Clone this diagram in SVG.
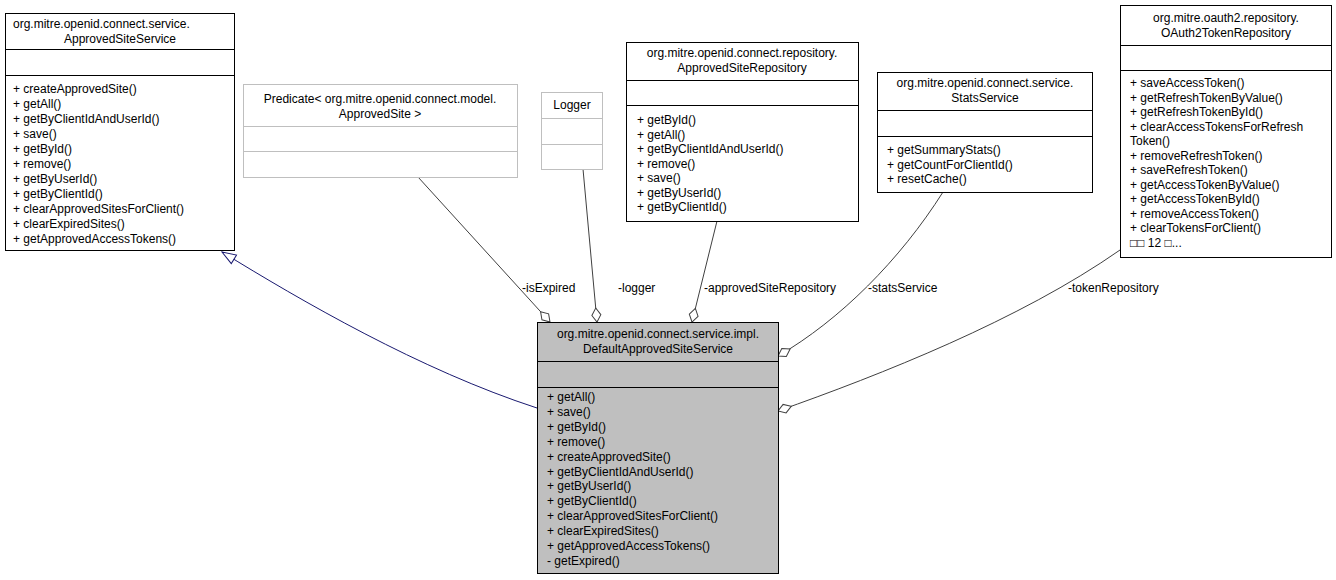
<svg xmlns="http://www.w3.org/2000/svg" width="1336" height="580" viewBox="0 0 1336 580">
<style>
text{font-family:"Liberation Sans",Arial,sans-serif;font-size:12px;fill:#000}
.c{text-anchor:middle}
.box{fill:#fff;stroke:#000;stroke-width:1}
.gbox{fill:#fff;stroke:#bfbfbf;stroke-width:1}
.main{fill:#bfbfbf;stroke:#000;stroke-width:1}
.e{fill:none;stroke:#404040;stroke-width:1}
.inh{fill:none;stroke:#191970;stroke-width:1}
</style>
<defs>
<marker id="dia" markerUnits="userSpaceOnUse" markerWidth="16" markerHeight="12" refX="15" refY="5.5" orient="auto" viewBox="0 0 16 11">
<path d="M1,5.5 L8,1 L15,5.5 L8,10 z" fill="#fff" stroke="#404040"/>
</marker>
<marker id="tri" markerUnits="userSpaceOnUse" markerWidth="16" markerHeight="14" refX="15" refY="6" orient="auto" viewBox="0 0 16 12">
<path d="M1,1 L15,6 L1,11 z" fill="#fff" stroke="#191970"/>
</marker>
</defs>
<g id="connectors">
<path class="inh" d="M537,408 C420,370 300,300 222,252" marker-end="url(#tri)"/>
<path class="e" d="M418,177 L550,322" marker-end="url(#dia)"/>
<path class="e" d="M583,169 L597,322" marker-end="url(#dia)"/>
<path class="e" d="M717,221 L692,322" marker-end="url(#dia)"/>
<path class="e" d="M943,192 C900,260 840,320 778,356" marker-end="url(#dia)"/>
<path class="e" d="M1120,250 C1020,320 880,375 778,411" marker-end="url(#dia)"/>
<text x="522" y="292">-isExpired</text>
<text x="618" y="292">-logger</text>
<text x="704" y="292">-approvedSiteRepository</text>
<text x="868" y="292">-statsService</text>
<text x="1068" y="292">-tokenRepository</text>
</g>
<g id="ApprovedSiteService">
<rect class="box" x="5.5" y="13.5" width="229" height="237"/>
<line class="box" x1="5.5" y1="49.5" x2="234.5" y2="49.5"/>
<line class="box" x1="5.5" y1="75.5" x2="234.5" y2="75.5"/>
<text x="13" y="28">org.mitre.openid.connect.service.</text>
<text class="c" x="120" y="43">ApprovedSiteService</text>
<text x="13" y="93">+ createApprovedSite()</text>
<text x="13" y="108">+ getAll()</text>
<text x="13" y="123">+ getByClientIdAndUserId()</text>
<text x="13" y="138">+ save()</text>
<text x="13" y="153">+ getById()</text>
<text x="13" y="168">+ remove()</text>
<text x="13" y="183">+ getByUserId()</text>
<text x="13" y="198">+ getByClientId()</text>
<text x="13" y="213">+ clearApprovedSitesForClient()</text>
<text x="13" y="228">+ clearExpiredSites()</text>
<text x="13" y="243">+ getApprovedAccessTokens()</text>
</g>
<g id="Predicate">
<rect class="gbox" x="243.5" y="84.5" width="274" height="93"/>
<line class="gbox" x1="243.5" y1="126.5" x2="517.5" y2="126.5"/>
<line class="gbox" x1="243.5" y1="151.5" x2="517.5" y2="151.5"/>
<text class="c" x="380" y="103">Predicate&lt; org.mitre.openid.connect.model.</text>
<text class="c" x="380" y="118">ApprovedSite &gt;</text>
</g>
<g id="Logger">
<rect class="gbox" x="541.5" y="92.5" width="61" height="77"/>
<line class="gbox" x1="541.5" y1="118.5" x2="602.5" y2="118.5"/>
<line class="gbox" x1="541.5" y1="144.5" x2="602.5" y2="144.5"/>
<text class="c" x="572" y="109">Logger</text>
</g>
<g id="ApprovedSiteRepository">
<rect class="box" x="626.5" y="42.5" width="232" height="179"/>
<line class="box" x1="626.5" y1="80.5" x2="858.5" y2="80.5"/>
<line class="box" x1="626.5" y1="105.5" x2="858.5" y2="105.5"/>
<text class="c" x="742" y="57">org.mitre.openid.connect.repository.</text>
<text class="c" x="742" y="72">ApprovedSiteRepository</text>
<text x="637" y="124">+ getById()</text>
<text x="637" y="138.5">+ getAll()</text>
<text x="637" y="153">+ getByClientIdAndUserId()</text>
<text x="637" y="167.5">+ remove()</text>
<text x="637" y="182">+ save()</text>
<text x="637" y="196.5">+ getByUserId()</text>
<text x="637" y="211">+ getByClientId()</text>
</g>
<g id="StatsService">
<rect class="box" x="877.5" y="72.5" width="215" height="120"/>
<line class="box" x1="877.5" y1="110.5" x2="1092.5" y2="110.5"/>
<line class="box" x1="877.5" y1="136.5" x2="1092.5" y2="136.5"/>
<text class="c" x="985" y="87">org.mitre.openid.connect.service.</text>
<text class="c" x="985" y="102">StatsService</text>
<text x="887" y="154">+ getSummaryStats()</text>
<text x="887" y="168.5">+ getCountForClientId()</text>
<text x="887" y="183">+ resetCache()</text>
</g>
<g id="OAuth2TokenRepository">
<rect class="box" x="1120.5" y="5.5" width="211" height="252"/>
<line class="box" x1="1120.5" y1="45.5" x2="1331.5" y2="45.5"/>
<line class="box" x1="1120.5" y1="70.5" x2="1331.5" y2="70.5"/>
<text class="c" x="1226" y="22">org.mitre.oauth2.repository.</text>
<text class="c" x="1226" y="37">OAuth2TokenRepository</text>
<text x="1130" y="87">+ saveAccessToken()</text>
<text x="1130" y="101.5">+ getRefreshTokenByValue()</text>
<text x="1130" y="116">+ getRefreshTokenById()</text>
<text x="1130" y="130.5">+ clearAccessTokensForRefresh</text>
<text x="1130" y="145">Token()</text>
<text x="1130" y="159.5">+ removeRefreshToken()</text>
<text x="1130" y="174">+ saveRefreshToken()</text>
<text x="1130" y="188.5">+ getAccessTokenByValue()</text>
<text x="1130" y="203">+ getAccessTokenById()</text>
<text x="1130" y="217.5">+ removeAccessToken()</text>
<text x="1130" y="232">+ clearTokensForClient()</text>
<text x="1130" y="246.5">□□ 12 □...</text>
</g>
<g id="DefaultApprovedSiteService">
<rect class="main" x="537.5" y="322.5" width="241" height="251"/>
<line class="box" x1="537.5" y1="361.5" x2="778.5" y2="361.5"/>
<line class="box" x1="537.5" y1="387.5" x2="778.5" y2="387.5"/>
<text class="c" x="658" y="338">org.mitre.openid.connect.service.impl.</text>
<text class="c" x="658" y="353">DefaultApprovedSiteService</text>
<text x="547" y="401">+ getAll()</text>
<text x="547" y="415.9">+ save()</text>
<text x="547" y="430.8">+ getById()</text>
<text x="547" y="445.7">+ remove()</text>
<text x="547" y="460.6">+ createApprovedSite()</text>
<text x="547" y="475.5">+ getByClientIdAndUserId()</text>
<text x="547" y="490.4">+ getByUserId()</text>
<text x="547" y="505.3">+ getByClientId()</text>
<text x="547" y="520.2">+ clearApprovedSitesForClient()</text>
<text x="547" y="535.1">+ clearExpiredSites()</text>
<text x="547" y="550">+ getApprovedAccessTokens()</text>
<text x="547" y="564.9">- getExpired()</text>
</g>
</svg>
